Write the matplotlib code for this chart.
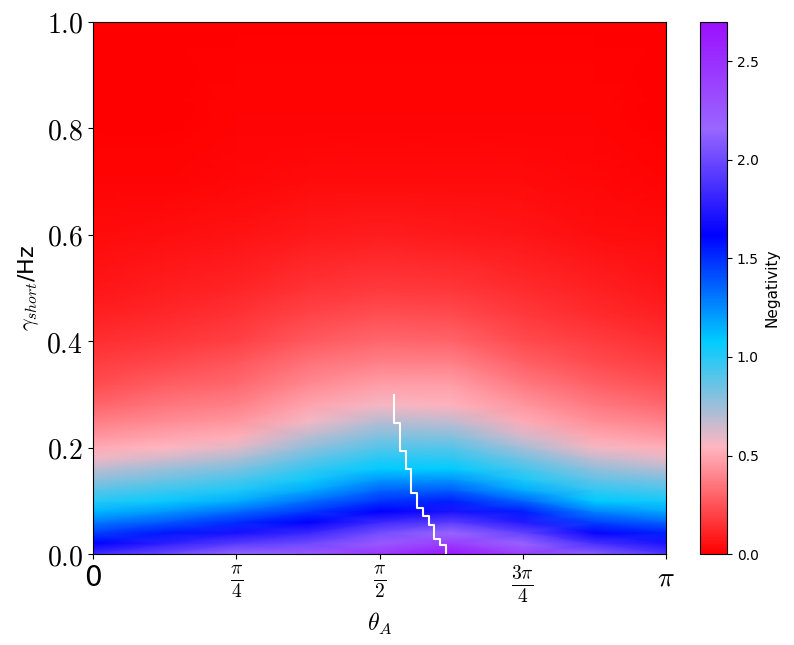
import matplotlib
matplotlib.use("Agg")
import matplotlib.pyplot as plt
import numpy as np
from matplotlib.colors import LinearSegmentedColormap

plt.rcParams['mathtext.fontset'] = 'cm'

# grid: theta columns (rad) and gamma rows (Hz)
theta_cols = [0.0, np.pi/8, np.pi/4, 3*np.pi/8, np.pi/2, 5*np.pi/8, 3*np.pi/4, 7*np.pi/8, np.pi]
gamma_rows = [0.0, 0.02, 0.04, 0.06, 0.08, 0.10, 0.12, 0.14, 0.16, 0.18, 0.20, 0.22,
              0.25, 0.28, 0.32, 0.36, 0.40, 0.45, 0.50, 0.60, 0.70, 0.80, 1.0]

# negativity along gamma, one list per theta column
neg_0 = [1.85, 1.62, 1.45, 1.29, 1.13, 1.00, 0.89, 0.78, 0.68, 0.58, 0.51, 0.45,
         0.37, 0.30, 0.23, 0.18, 0.14, 0.10, 0.07, 0.04, 0.02, 0.01, 0.0]
neg_1 = [2.00, 1.78, 1.56, 1.39, 1.22, 1.06, 0.955, 0.85, 0.75, 0.64, 0.54, 0.49,
         0.42, 0.35, 0.28, 0.22, 0.16, 0.12, 0.085, 0.045, 0.02, 0.01, 0.0]
neg_2 = [2.15, 1.92, 1.70, 1.50, 1.33, 1.15, 1.02, 0.92, 0.82, 0.71, 0.61, 0.525,
         0.45, 0.38, 0.31, 0.255, 0.20, 0.15, 0.11, 0.055, 0.028, 0.013, 0.0]
neg_3 = [2.25, 2.01, 1.82, 1.62, 1.47, 1.32, 1.17, 1.045, 0.96, 0.87, 0.78, 0.69,
         0.56, 0.49, 0.41, 0.34, 0.27, 0.205, 0.15, 0.078, 0.038, 0.018, 0.0]
neg_4 = [2.45, 2.24, 2.035, 1.83, 1.62, 1.485, 1.35, 1.215, 1.08, 0.994, 0.907, 0.82,
         0.69, 0.56, 0.47, 0.39, 0.31, 0.235, 0.175, 0.088, 0.042, 0.021, 0.0]
neg_5 = [2.65, 2.405, 2.16, 1.935, 1.71, 1.53, 1.38, 1.23, 1.08, 0.988, 0.897, 0.806,
         0.668, 0.535, 0.465, 0.38, 0.30, 0.228, 0.165, 0.083, 0.04, 0.019, 0.0]
neg_6 = [2.40, 2.18, 1.966, 1.75, 1.545, 1.36, 1.17, 1.03, 0.933, 0.835, 0.736, 0.638,
         0.516, 0.45, 0.36, 0.29, 0.23, 0.175, 0.128, 0.065, 0.032, 0.016, 0.0]
neg_7 = [2.10, 1.87, 1.645, 1.45, 1.27, 1.08, 0.977, 0.874, 0.77, 0.668, 0.566, 0.504,
         0.43, 0.36, 0.295, 0.23, 0.18, 0.13, 0.095, 0.048, 0.023, 0.011, 0.0]
neg_8 = [1.90, 1.71, 1.53, 1.36, 1.18, 1.036, 0.926, 0.815, 0.705, 0.595, 0.52, 0.46,
         0.38, 0.31, 0.24, 0.185, 0.14, 0.10, 0.07, 0.04, 0.02, 0.01, 0.0]

# position of the maximum (white staircase)
ridge_theta = [1.650, 1.682, 1.714, 1.745, 1.777, 1.809, 1.840, 1.872, 1.904, 1.936]
ridge_gamma = [0.298, 0.247, 0.194, 0.159, 0.115, 0.0865, 0.0714, 0.0551, 0.0276, 0.0163, 0.0]

x_ticks = [0, np.pi/4, np.pi/2, 3*np.pi/4, np.pi]
x_labels = ['0', r'$\frac{\pi}{4}$', r'$\frac{\pi}{2}$', r'$\frac{3\pi}{4}$', r'$\pi$']
y_ticks = [0.0, 0.2, 0.4, 0.6, 0.8, 1.0]
y_labels = [r'$0.0$', r'$0.2$', r'$0.4$', r'$0.6$', r'$0.8$', r'$1.0$']
cbar_ticks = [0.0, 0.5, 1.0, 1.5, 2.0, 2.5]

neg = np.column_stack([neg_0, neg_1, neg_2, neg_3, neg_4, neg_5, neg_6, neg_7, neg_8])

cmap = LinearSegmentedColormap.from_list(
    'neg', [(0.0, '#ff0000'), (0.2, '#ffb6c1'), (0.4, '#00ccff'),
            (0.6, '#0000ff'), (0.8, '#9966ff'), (1.0, '#9b10ff')])

fig = plt.figure(figsize=(7.94, 6.45), dpi=100)
ax = fig.add_axes([0.117, 0.141, 0.722, 0.825])
cax = fig.add_axes([0.8816, 0.141, 0.034, 0.825])

mesh = ax.pcolormesh(theta_cols, gamma_rows, neg, shading='gouraud', cmap=cmap,
                     vmin=0, vmax=2.7, rasterized=True)

# staircase for the maximum
rx = np.repeat(ridge_theta, 2)
ry = np.column_stack([ridge_gamma[:-1], ridge_gamma[1:]]).ravel()
ax.plot(rx, ry, color='white', linewidth=1.5)

ax.set_xlim(0, np.pi)
ax.set_ylim(0, 1)
ax.set_xticks(x_ticks)
ax.set_xticklabels(x_labels, fontsize=20)
ax.set_yticks(y_ticks)
ax.set_yticklabels(y_labels, fontsize=20)
ax.set_xlabel(r'$\theta_A$', fontsize=17)
ax.set_ylabel(r'$\gamma_{short}$/Hz', fontsize=16)

cbar = fig.colorbar(mesh, cax=cax)
cbar.set_ticks(cbar_ticks)
cbar.ax.tick_params(labelsize=10)
cbar.set_label('Negativity', fontsize=11)

plt.savefig('out.png', dpi=100)
plt.close(fig)
